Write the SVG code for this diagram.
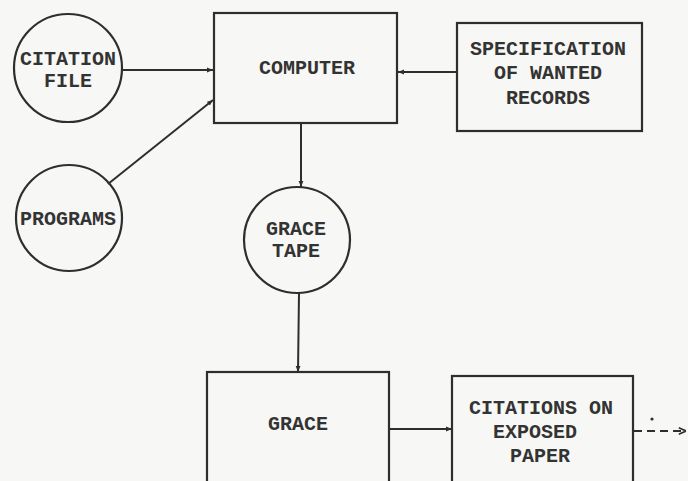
<svg xmlns="http://www.w3.org/2000/svg" width="688" height="481" viewBox="0 0 688 481">
<defs>
<style>
.ln{stroke:#2e2e2e;stroke-width:2;fill:none}
.nd{stroke:#2e2e2e;stroke-width:2.2;fill:none}
.tx{font-family:"Liberation Mono","Courier New",monospace;font-size:20px;font-weight:bold;fill:#333;text-anchor:middle}
</style>
<marker id="ah" viewBox="0 0 10 10" refX="10" refY="5" markerWidth="6" markerHeight="6" orient="auto" markerUnits="userSpaceOnUse"><path d="M0,1 L10,5 L0,9 z" fill="#2e2e2e"/></marker>
<marker id="ao" viewBox="0 0 10 10" refX="10" refY="5" markerWidth="8" markerHeight="8" orient="auto" markerUnits="userSpaceOnUse"><path d="M1,1 L10,5 L1,9" fill="none" stroke="#2e2e2e" stroke-width="2"/></marker>
</defs>
<rect width="688" height="481" fill="#f7f7f5"/>
<g id="connectors">
<line class="ln" x1="123" y1="70" x2="213" y2="70" marker-end="url(#ah)"/>
<line class="ln" x1="108" y1="184" x2="213" y2="100" marker-end="url(#ah)"/>
<line class="ln" x1="457" y1="72" x2="398" y2="72" marker-end="url(#ah)"/>
<line class="ln" x1="301" y1="124" x2="301" y2="187" marker-end="url(#ah)"/>
<line class="ln" x1="299" y1="293" x2="298" y2="372" marker-end="url(#ah)"/>
<line class="ln" x1="389" y1="429" x2="452" y2="429" marker-end="url(#ah)"/>
<line class="ln" x1="634" y1="431" x2="686" y2="431" stroke-dasharray="8 5" marker-end="url(#ao)"/>
<circle cx="652" cy="419" r="1.6" fill="#2e2e2e"/>
</g>
<g id="citation-file">
<circle class="nd" cx="68" cy="68" r="54"/>
<text class="tx" x="68" y="65">CITATION</text>
<text class="tx" x="68" y="87">FILE</text>
</g>
<g id="computer">
<rect class="nd" x="214" y="13" width="183" height="110"/>
<text class="tx" x="307" y="74">COMPUTER</text>
</g>
<g id="specification">
<rect class="nd" x="457" y="23" width="185" height="108"/>
<text class="tx" x="548" y="55">SPECIFICATION</text>
<text class="tx" x="548" y="79">OF WANTED</text>
<text class="tx" x="548" y="104">RECORDS</text>
</g>
<g id="programs">
<circle class="nd" cx="69" cy="218" r="53"/>
<text class="tx" x="68" y="225">PROGRAMS</text>
</g>
<g id="grace-tape">
<circle class="nd" cx="297" cy="240" r="53"/>
<text class="tx" x="296" y="235">GRACE</text>
<text class="tx" x="296" y="257">TAPE</text>
</g>
<g id="grace">
<rect class="nd" x="207" y="372" width="182" height="120"/>
<text class="tx" x="298" y="430">GRACE</text>
</g>
<g id="citations">
<rect class="nd" x="452" y="376" width="181" height="120"/>
<text class="tx" x="541" y="414">CITATIONS ON</text>
<text class="tx" x="535" y="438">EXPOSED</text>
<text class="tx" x="540" y="462">PAPER</text>
</g>
</svg>
